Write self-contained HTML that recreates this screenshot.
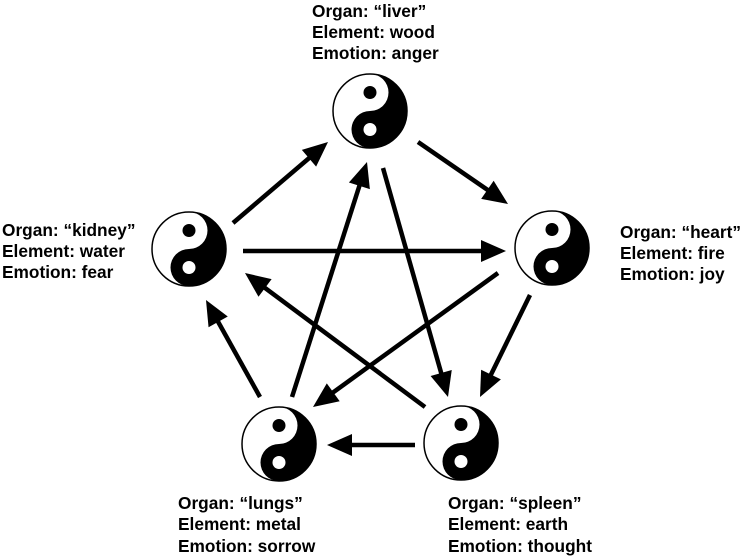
<!DOCTYPE html>
<html><head><meta charset="utf-8"><style>
html,body{margin:0;padding:0;background:#fff;}
svg{display:block;}
text{font-family:"Liberation Sans",Arial,sans-serif;font-weight:bold;font-size:17.3px;fill:#000;}
</style></head><body>
<svg id="s" width="745" height="557" viewBox="0 0 745 557" xmlns="http://www.w3.org/2000/svg">
<defs>
<g id="yy">
<circle r="37" fill="#fff" stroke="#000" stroke-width="1.5"/>
<path d="M0,-37 A37,37 0 0 1 0,37 A18.5,18.5 0 0 1 0,0 A18.5,18.5 0 0 0 0,-37 Z" fill="#000"/>
<circle cy="-18.5" r="6.5" fill="#000"/>
<circle cy="18.5" r="6.5" fill="#fff"/>
</g>
</defs>
<use href="#yy" x="370" y="111"/>
<use href="#yy" x="189" y="249"/>
<use href="#yy" x="552" y="248"/>
<use href="#yy" x="279" y="444"/>
<use href="#yy" x="461" y="443"/>

<text x="312" y="17">Organ: “liver”</text>
<text x="312" y="38">Element: wood</text>
<text x="312" y="59">Emotion: anger</text>

<text x="2" y="236">Organ: “kidney”</text>
<text x="2" y="257">Element: water</text>
<text x="2" y="278">Emotion: fear</text>

<text x="620" y="238">Organ: “heart”</text>
<text x="620" y="259">Element: fire</text>
<text x="620" y="280">Emotion: joy</text>

<text x="178" y="509">Organ: “lungs”</text>
<text x="178" y="530">Element: metal</text>
<text x="178" y="552">Emotion: sorrow</text>

<text x="448" y="509">Organ: “spleen”</text>
<text x="448" y="530">Element: earth</text>
<text x="448" y="552">Emotion: thought</text>
<g id="arrows"></g>
</svg>
<script>
var A=[
[233,223,328,142],
[418,142,508,204],
[243,251,506,251],
[530,295,480,397],
[498,273,313,407],
[383,168,448,397],
[292,397,367,162],
[425,407,245,273],
[260,397,206,300],
[415,445,327,445]
];
var g=document.getElementById('arrows'),out='';
A.forEach(function(a){
 var dx=a[2]-a[0],dy=a[3]-a[1],L=Math.sqrt(dx*dx+dy*dy),ux=dx/L,uy=dy/L;
 var hl=25,hw=11;
 var bx=a[2]-ux*hl,by=a[3]-uy*hl;
 var ex=a[2]-ux*(hl-3),ey=a[3]-uy*(hl-3);
 out+='<line x1="'+a[0]+'" y1="'+a[1]+'" x2="'+ex+'" y2="'+ey+'" stroke="#000" stroke-width="4.5"/>';
 out+='<polygon fill="#000" points="'+a[2]+','+a[3]+' '+(bx-uy*hw)+','+(by+ux*hw)+' '+(bx+uy*hw)+','+(by-ux*hw)+'"/>';
});
g.innerHTML=out;
</script>
</body></html>
